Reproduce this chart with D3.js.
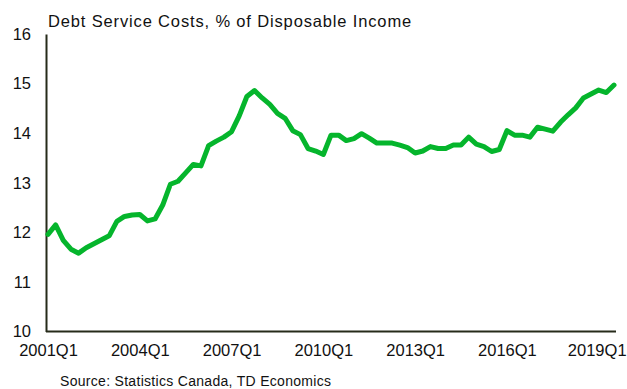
<!DOCTYPE html>
<html>
<head>
<meta charset="utf-8">
<script src="https://cdn.jsdelivr.net/npm/d3@7"></script>
<style>
  body { margin: 0; background: #fff; }
  svg { font-family: "Liberation Sans", Arial, sans-serif; }
</style>
</head>
<body>
<div id="chart"></div>
<script>
// quarterly debt service ratio, 2001Q1 .. 2019Q3
const years = d3.range(2001, 2020);
const quarters = years.flatMap(y => [1, 2, 3, 4].map(q => y + 'Q' + q)).slice(0, 75);
const debtService = [
  11.96, 12.15, 11.84, 11.66,
  11.58, 11.69, 11.77, 11.85,
  11.93, 12.22, 12.32, 12.35,
  12.36, 12.23, 12.27, 12.55,
  12.97, 13.03, 13.20, 13.37,
  13.34, 13.75, 13.84, 13.92,
  14.03, 14.35, 14.74, 14.86,
  14.71, 14.58, 14.40, 14.30,
  14.05, 13.97, 13.69, 13.64,
  13.57, 13.96, 13.96, 13.85,
  13.89, 13.99, 13.90, 13.80,
  13.80, 13.80, 13.76, 13.71,
  13.60, 13.64, 13.73, 13.69,
  13.69, 13.76, 13.76, 13.92,
  13.78, 13.73, 13.63, 13.67,
  14.05, 13.96, 13.96, 13.92,
  14.12, 14.08, 14.04, 14.22,
  14.37, 14.51, 14.71, 14.79,
  14.87, 14.82, 14.97
];
const xTickLabels = ['2001Q1', '2004Q1', '2007Q1', '2010Q1', '2013Q1', '2016Q1', '2019Q1'];
const yTicks = [10, 11, 12, 13, 14, 15, 16];

const width = 627, height = 389;
const plotLeft = 46, plotRight = 616, plotTop = 34, plotBottom = 331.5;

const svg = d3.select('#chart').append('svg')
    .attr('width', width)
    .attr('height', height);

const x = d3.scalePoint()
    .domain(quarters)
    .range([plotLeft + 2, plotRight - 2]);

const y = d3.scaleLinear()
    .domain([10, 16])
    .range([plotBottom, plotTop]);

// title
svg.append('text')
    .attr('x', 48)
    .attr('y', 27)
    .attr('font-size', 16.5)
    .attr('letter-spacing', 0.85)
    .attr('fill', '#111')
    .text('Debt Service Costs, % of Disposable Income');

// y axis
const yAxis = svg.append('g')
    .attr('transform', `translate(${plotLeft},0)`)
    .call(d3.axisLeft(y).tickValues(yTicks).tickSize(0).tickPadding(15).tickFormat(d3.format('d')));
yAxis.select('.domain').attr('stroke', '#262b1a').attr('stroke-width', 2);
yAxis.selectAll('text').attr('font-size', 16.5).attr('fill', '#111');

// x axis
const xAxis = svg.append('g')
    .attr('transform', `translate(0,${plotBottom})`)
    .call(d3.axisBottom(x).tickValues(xTickLabels).tickSize(0).tickPadding(13));
xAxis.select('.domain')
    .attr('d', `M${plotLeft},0H${plotRight}`)
    .attr('stroke', '#262b1a').attr('stroke-width', 2);
xAxis.selectAll('text').attr('font-size', 16.5).attr('fill', '#111');
xAxis.selectAll('.tick:last-of-type text').attr('dx', -2);
svg.selectAll('g').attr('font-family', null);

// line
const line = d3.line()
    .x((d, i) => x(quarters[i]))
    .y(d => y(d));

svg.append('path')
    .datum(debtService)
    .attr('fill', 'none')
    .attr('stroke', '#05b52c')
    .attr('stroke-width', 5)
    .attr('stroke-linejoin', 'round')
    .attr('stroke-linecap', 'round')
    .attr('d', line);

// source
svg.append('text')
    .attr('x', 60)
    .attr('y', 386)
    .attr('font-size', 14)
    .attr('letter-spacing', 0.3)
    .attr('fill', '#111')
    .text('Source: Statistics Canada, TD Economics');
</script>
</body>
</html>
